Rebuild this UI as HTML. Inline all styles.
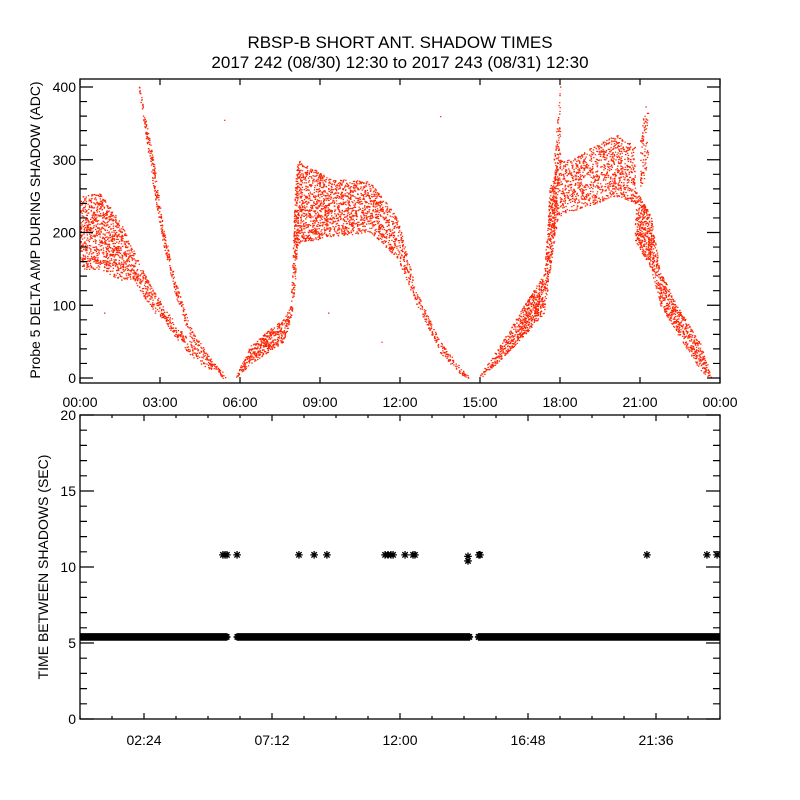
<!DOCTYPE html>
<html><head><meta charset="utf-8"><style>
html,body{margin:0;padding:0;background:#fff;}
svg{display:block;font-family:"Liberation Sans",sans-serif;}
</style></head><body>
<svg id="chart" width="800" height="800" viewBox="0 0 800 800">
<defs><clipPath id="botClip"><rect x="80" y="415" width="640" height="304"/></clipPath></defs>
<rect width="800" height="800" fill="#fff"/>
<text x="400" y="48" text-anchor="middle" font-size="17">RBSP-B SHORT ANT. SHADOW TIMES</text>
<text x="400" y="68" text-anchor="middle" font-size="17">2017 242 (08/30) 12:30 to 2017 243 (08/31) 12:30</text>
<g id="topPanel"></g>
<g id="botPanel"></g>
<text transform="translate(40,230) rotate(-90)" text-anchor="middle" font-size="14">Probe 5 DELTA AMP DURING SHADOW (ADC)</text>
<text transform="translate(48,567) rotate(-90)" text-anchor="middle" font-size="14">TIME BETWEEN SHADOWS (SEC)</text>
</svg>
<script>
// ---- top panel band data (hours, ADC low, ADC high) ----
const segATime=[0.0,0.75,1.5,2.0,2.6,3.1,3.9,4.5,5.45];
const segALo=[150,150,135,135,100,80,40,20,0];
const segAHi=[250,255,215,175,130,100,60,38,5];
const segBTime=[2.2,2.75,3.1,3.6,4.1,4.75,5.35];
const segBLo=[395,260,185,110,58,24,0];
const segBHi=[405,300,210,130,72,34,5];
const segCTime=[5.85,6.4,7.0,7.6,7.9,8.05,8.15];
const segCLo=[0,20,35,50,80,130,185];
const segCHi=[5,45,65,80,100,260,300];
const segDTime=[8.15,9.4,10.9,11.9,12.6,13.5,14.25,14.55];
const segDLo=[185,195,200,165,102,35,5,0];
const segDHi=[300,275,270,220,120,50,15,4];
const segETime=[15.0,15.9,16.8,17.4,17.6,17.9];
const segELo=[0,30,65,90,145,220];
const segEHi=[5,55,110,145,260,300];
const segFTime=[17.9,18.3,20.1,20.8];
const segFLo=[220,228,250,240];
const segFHi=[300,300,335,320];
const segGTime=[20.8,21.4,21.75,22.5,23.25,23.65];
const segGLo=[190,150,100,55,10,0];
const segGHi=[260,225,147,92,48,5];
const spikeTime=[17.75,18.0,21.0,21.3];
const spikeLo=[190,300,250,300];
const spikeHi=[300,405,330,405];
const strayTime=[0.9,2.8,5.4,9.3,11.3,13.5,16.9];
const strayVal=[90,90,355,90,50,360,80];
// ---- bottom panel data ----
const bandStart=[0.0,5.9,14.95];
const bandEnd=[5.5,14.6,24.0];
const bandValue=5.4;
const outTime=[5.36,5.44,5.51,5.89,8.21,8.78,9.26,11.44,11.55,11.66,11.74,12.19,12.49,12.56,14.55,14.55,14.96,15.0,21.26,23.51,23.89];
const outVal=[10.8,10.8,10.8,10.8,10.8,10.8,10.8,10.8,10.8,10.8,10.8,10.8,10.8,10.8,10.4,10.7,10.8,10.8,10.8,10.8,10.8];
const topXLabels=["00:00","03:00","06:00","09:00","12:00","15:00","18:00","21:00","00:00"];
const topYLabels=["0","100","200","300","400"];
const botXLabels=["02:24","07:12","12:00","16:48","21:36"];
const botYLabels=["0","5","10","15","20"];

const NS="http://www.w3.org/2000/svg";
function mk(tag,attrs,parent){const e=document.createElementNS(NS,tag);for(const k in attrs)e.setAttribute(k,attrs[k]);parent.appendChild(e);return e;}
const L=80,R=720,T1=79,B1=383,T2=415,B2=719;
const xT=t=>L+(t/24)*(R-L);
const yT=v=>378-0.7275*v;
const yB=v=>B2-(v/20)*(B2-T2);
const topG=document.getElementById('topPanel'),botG=document.getElementById('botPanel');

let seed=12345;
function rnd(){seed=(seed*1103515245+12345)&0x7fffffff;return seed/0x7fffffff;}
function interp(ts,vs,t){for(let i=0;i<ts.length-1;i++){if(t>=ts[i]&&t<=ts[i+1]){const f=(t-ts[i])/(ts[i+1]-ts[i]);return vs[i]+f*(vs[i+1]-vs[i]);}}return null;}
let d="";
function band(ts,lo,hi,dens){
  const t0=ts[0],t1=ts[ts.length-1];
  for(let t=t0;t<=t1;t+=0.006){
    const a=interp(ts,lo,t),b=interp(ts,hi,t);if(a==null)continue;
    const n=Math.max(1,Math.round((b-a)*0.72*dens/6));
    for(let k=0;k<n;k++){if(rnd()>0.28)continue;const v=a+rnd()*(b-a);const x=xT(t+(rnd()-0.5)*0.01),y=yT(v);
      if(y<T1+1)continue;d+=`M${x.toFixed(1)} ${y.toFixed(1)}h1.4v1.2h-1.4z`;}
  }
}
band(segATime,segALo,segAHi,1.0);
band(segBTime,segBLo,segBHi,1.3);
band(segCTime,segCLo,segCHi,1.6);
band(segDTime,segDLo,segDHi,1.0);
band(segETime,segELo,segEHi,1.5);
band(segFTime,segFLo,segFHi,0.8);
band(segGTime,segGLo,segGHi,1.4);
for(let i=0;i<spikeTime.length;i+=2)band([spikeTime[i],spikeTime[i+1]],[spikeLo[i],spikeLo[i+1]],[spikeHi[i],spikeHi[i+1]],0.6);
for(let i=0;i<strayTime.length;i++){d+=`M${xT(strayTime[i]).toFixed(1)} ${yT(strayVal[i]).toFixed(1)}h1.4v1.2h-1.4z`;}
const pts=mk('path',{d:d,fill:'#ff2200'},topG);



const f1=mk('rect',{x:L,y:T1,width:R-L,height:B1-T1,fill:'none',stroke:'#000','stroke-width':1.3},topG);


let tk="";
for(let i=0;i<=8;i++){const x=xT(i*3);tk+=`M${x} ${B1}v-6M${x} ${T1}v6`;}
for(let v=0;v<=400;v+=20){const y=yT(v);const len=v%100==0?13:7;if(y<T1)continue;tk+=`M${L} ${y}h${len}M${R} ${y}h-${len}`;}
mk('path',{d:tk,stroke:'#000','stroke-width':1.2,fill:'none'},topG);
topXLabels.forEach((s,i)=>{const e=mk('text',{x:xT(i*3),y:407,'text-anchor':'middle','font-size':14},topG);e.textContent=s;

});
topYLabels.forEach((s,i)=>{const e=mk('text',{x:76,y:yT(i*100)+5,'text-anchor':'end','font-size':14},topG);e.textContent=s;

});

function star(x,y){const r=3.8,q=2.7;return `M${x-r} ${y}h${2*r}M${x} ${y-r}v${2*r}M${x-q} ${y-q}l${2*q} ${2*q}M${x-q} ${y+q}l${2*q} ${-2*q}`;}
let sd="";
for(let s=0;s<bandStart.length;s++){for(let t=bandStart[s];t<=bandEnd[s]+1e-9;t+=0.05){sd+=star(xT(t),yB(bandValue));}}
const bandPath=mk('path',{d:sd,stroke:'#000','stroke-width':1.6,fill:'none','clip-path':'url(#botClip)'},botG);


let od="";
for(let i=0;i<outTime.length;i++)od+=star(xT(outTime[i]),yB(outVal[i]));
const outPath=mk('path',{d:od,stroke:'#000','stroke-width':1.3,fill:'none','clip-path':'url(#botClip)'},botG);


const f2=mk('rect',{x:L,y:T2,width:R-L,height:B2-T2,fill:'none',stroke:'#000','stroke-width':1.3},botG);


let bt="";
for(let i=0;i<=20;i++){const x=xT(i*1.2);const len=i%4==2?6:3;bt+=`M${x} ${B2}v-${len}M${x} ${T2}v${len}`;}
for(let v=0;v<=20;v++){const y=yB(v);const len=v%5==0?14:7;bt+=`M${L} ${y}h${len}M${R} ${y}h-${len}`;}
mk('path',{d:bt,stroke:'#000','stroke-width':1.2,fill:'none'},botG);
botXLabels.forEach((s,i)=>{const e=mk('text',{x:xT(2.4+i*4.8),y:745,'text-anchor':'middle','font-size':14},botG);e.textContent=s;

});
botYLabels.forEach((s,i)=>{const e=mk('text',{x:76,y:yB(i*5)+5,'text-anchor':'end','font-size':14},botG);e.textContent=s;

});
</script>
</body></html>
